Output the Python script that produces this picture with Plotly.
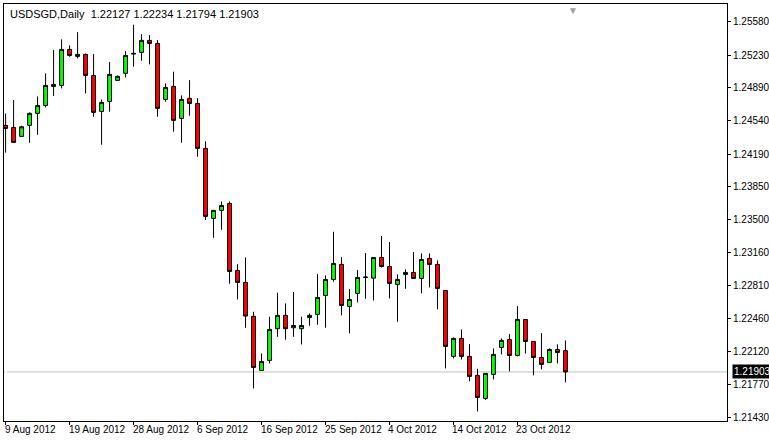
import plotly.graph_objects as go

# USDSGD daily bars, 9 Aug 2012 .. 30 Oct 2012 (Sunday bars included)
opens = [1.24492, 1.24470, 1.24376, 1.24492, 1.24618, 1.24701, 1.24922, 1.24911, 1.25289, 1.25216,
         1.25237, 1.25016, 1.24638, 1.24743, 1.24964, 1.25038, 1.25240, 1.25258, 1.25384, 1.25352,
         1.24764, 1.24901, 1.24565, 1.24775, 1.24722, 1.24250, 1.23515, 1.23599, 1.23672, 1.22969,
         1.22843, 1.22487, 1.21919, 1.22024, 1.22357, 1.22497, 1.22367, 1.22357, 1.22475, 1.22507,
         1.22706, 1.22874, 1.23032, 1.22591, 1.22728, 1.22895, 1.22888, 1.23105, 1.23010, 1.22822,
         1.22927, 1.22948, 1.22885, 1.23095, 1.23032, 1.22759, 1.22066, 1.22255, 1.22066, 1.21867,
         1.21625, 1.21877, 1.22160, 1.22244, 1.22076, 1.22454, 1.22223, 1.22055, 1.22003, 1.22139,
         1.22127]
highs = [1.24617, 1.24758, 1.24488, 1.24628, 1.24796, 1.25038, 1.25282, 1.25395, 1.25332, 1.25471,
         1.25247, 1.25240, 1.24764, 1.25156, 1.25016, 1.25272, 1.25548, 1.25450, 1.25440, 1.25387,
         1.24932, 1.25055, 1.24806, 1.24967, 1.24778, 1.24324, 1.23602, 1.23693, 1.23693, 1.23035,
         1.23105, 1.22535, 1.22097, 1.22482, 1.22735, 1.22622, 1.22742, 1.22482, 1.22517, 1.22930,
         1.22916, 1.23375, 1.23109, 1.22773, 1.22972, 1.23151, 1.23105, 1.23330, 1.23267, 1.22927,
         1.22980, 1.23161, 1.23147, 1.23147, 1.23074, 1.22759, 1.22265, 1.22349, 1.22195, 1.21937,
         1.21888, 1.22150, 1.22255, 1.22300, 1.22594, 1.22454, 1.22223, 1.22311, 1.22150, 1.22192,
         1.22234]
lows = [1.24205, 1.24313, 1.24376, 1.24309, 1.24393, 1.24680, 1.24800, 1.24880, 1.25212, 1.25195,
        1.24827, 1.24582, 1.24288, 1.24635, 1.24964, 1.24995, 1.25108, 1.25170, 1.25132, 1.24582,
        1.24740, 1.24425, 1.24309, 1.24593, 1.24162, 1.23498, 1.23312, 1.23396, 1.22829, 1.22664,
        1.22367, 1.21730, 1.21919, 1.21992, 1.22272, 1.22241, 1.22272, 1.22192, 1.22388, 1.22398,
        1.22367, 1.22850, 1.22497, 1.22308, 1.22633, 1.22671, 1.22654, 1.22999, 1.22675, 1.22430,
        1.22776, 1.22885, 1.22728, 1.22790, 1.22560, 1.21940, 1.22045, 1.22034, 1.21804, 1.21488,
        1.21608, 1.21824, 1.22087, 1.21909, 1.22066, 1.22097, 1.21867, 1.21930, 1.22003, 1.21992,
        1.21794]
closes = [1.24460, 1.24313, 1.24477, 1.24618, 1.24701, 1.24911, 1.24901, 1.25289, 1.25226, 1.25237,
          1.25016, 1.24628, 1.24733, 1.25027, 1.25006, 1.25226, 1.25247, 1.25384, 1.25352, 1.24670,
          1.24890, 1.24544, 1.24764, 1.24722, 1.24250, 1.23536, 1.23599, 1.23651, 1.22958, 1.22843,
          1.22490, 1.21950, 1.22013, 1.22350, 1.22497, 1.22357, 1.22391, 1.22391, 1.22497, 1.22685,
          1.22874, 1.23042, 1.22601, 1.22664, 1.22895, 1.22899, 1.23105, 1.23010, 1.22832, 1.22874,
          1.22948, 1.22885, 1.23084, 1.23032, 1.22780, 1.22171, 1.22255, 1.22066, 1.21856, 1.21635,
          1.21888, 1.22087, 1.22234, 1.22076, 1.22454, 1.22223, 1.22055, 1.21982, 1.22139, 1.22107,
          1.21903]

date_ticks = [0, 8, 16, 24, 32, 40, 48, 56, 64]
date_labels = ["9 Aug 2012", "19 Aug 2012", "28 Aug 2012", "6 Sep 2012", "16 Sep 2012",
               "25 Sep 2012", "4 Oct 2012", "14 Oct 2012", "23 Oct 2012"]
price_ticks = [1.25580, 1.25230, 1.24890, 1.24540, 1.24190, 1.23850, 1.23500,
               1.23160, 1.22810, 1.22460, 1.22120, 1.21770, 1.21430]
last_price = 1.21903

FONT = "Liberation Sans"
FS = 10

fig = go.Figure()
fig.add_trace(go.Candlestick(
    x=list(range(len(opens))), open=opens, high=highs, low=lows, close=closes,
    increasing=dict(line=dict(color="black", width=1), fillcolor="#00ff00"),
    decreasing=dict(line=dict(color="black", width=1), fillcolor="#ff0000"),
    whiskerwidth=0, showlegend=False,
))

fig.add_hline(y=last_price, line=dict(color="#c0c0c0", width=1), layer="below")

# date labels, left aligned at their bar like the terminal does
for t, lab in zip(date_ticks, date_labels):
    fig.add_annotation(x=t, y=0, yref="paper", text=lab, showarrow=False,
                       xanchor="left", yanchor="top", xshift=-3, yshift=-1,
                       font=dict(family=FONT, size=FS, color="black"))

fig.add_annotation(x=1.0, xref="paper", y=last_price, text="%.5f" % last_price,
                   showarrow=False, xanchor="left", xshift=5, bgcolor="black",
                   font=dict(family=FONT, size=FS, color="white"), borderpad=1)
fig.add_annotation(x=0.005, xref="paper", y=1, yref="paper", yanchor="top", yshift=-2,
                   xanchor="left", showarrow=False,
                   text="USDSGD,Daily  %.5f %.5f %.5f %.5f" % (opens[-1], highs[-1], lows[-1], closes[-1]),
                   font=dict(family=FONT, size=FS + 1, color="black"))
fig.add_annotation(x=0.797, xref="paper", y=1, yref="paper", yanchor="top", yshift=3,
                   showarrow=False, text="▼", font=dict(size=10, color="#a0a0a0"))

fig.update_layout(
    width=769, height=441,
    margin=dict(l=4, r=42, t=4, b=20, autoexpand=False),
    paper_bgcolor="white", plot_bgcolor="white",
    xaxis=dict(range=[-0.2, 90.2], showgrid=False, showline=True, mirror=True,
               linecolor="black", showticklabels=False, ticks="outside",
               tickvals=date_ticks, ticklen=3, tickcolor="black",
               rangeslider=dict(visible=False)),
    yaxis=dict(range=[1.21388, 1.25766], side="right", showgrid=False, showline=True,
               mirror=True, linecolor="black", tickvals=price_ticks,
               ticktext=["%.5f" % v for v in price_ticks], ticks="outside",
               ticklen=3, tickcolor="black",
               tickfont=dict(family=FONT, size=FS, color="black")),
)

# page margin would push the right axis labels out of the window
fig.write_html("out.html", config={"displayModeBar": False},
               post_script="document.body.style.margin='0';document.body.style.overflow='hidden';")
